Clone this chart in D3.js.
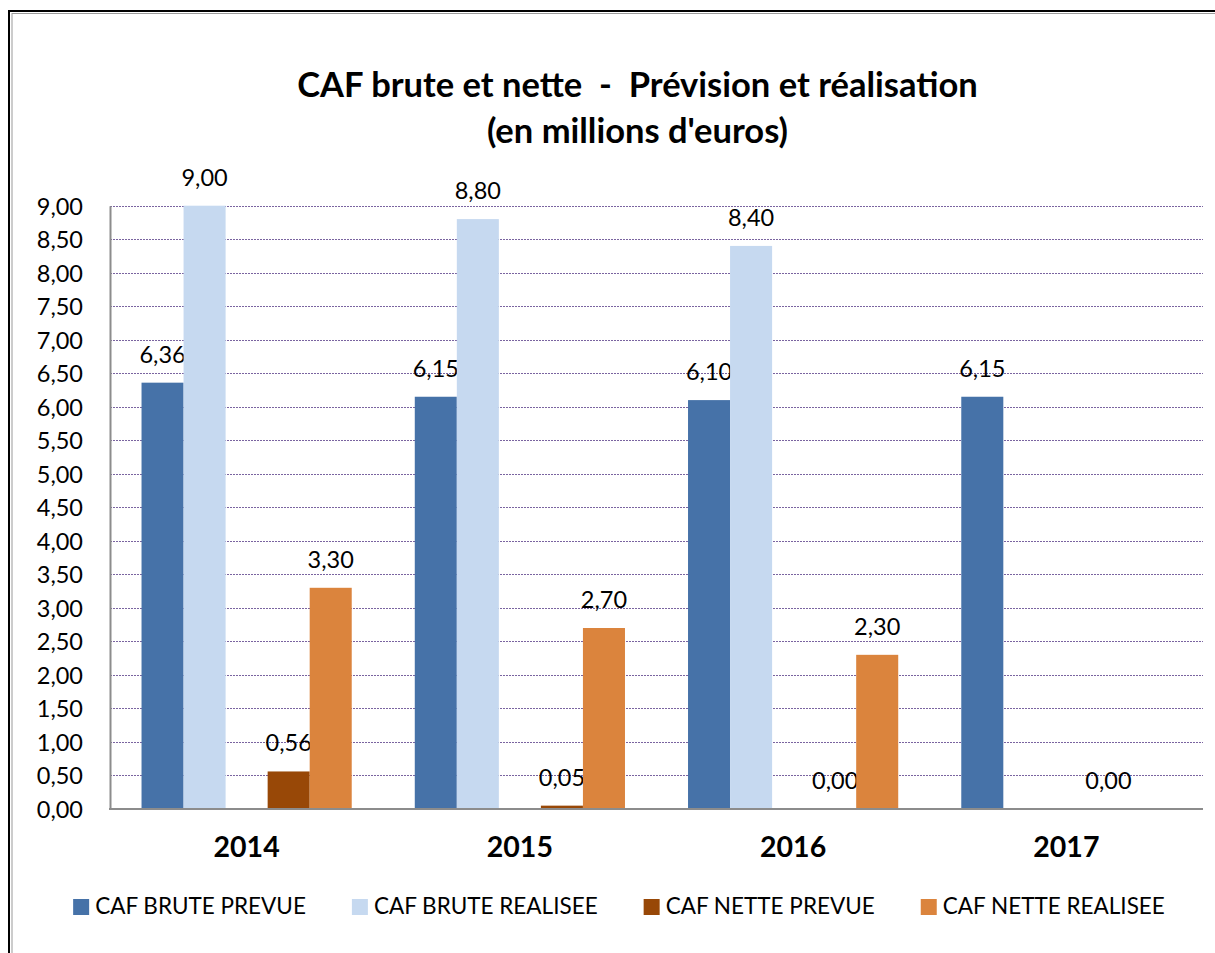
<html>
<head>
	<meta http-equiv="Content-Type" content="text/html; charset=utf-8" />
	<script src="https://cdn.jsdelivr.net/npm/d3@7/dist/d3.min.js" charset="utf-8"></script>
	<style type="text/css">
	body {
		background-color: #FFFFFF;
		margin: 0;
		overflow: hidden;
	}
	text {
		font-family: Lato, "Open Sans", sans-serif;
		fill: #000000;
		white-space: pre;
	}
	</style>
</head>
<body>
	<svg width="1215" height="953" version="1.1" xmlns="http://www.w3.org/2000/svg"></svg>

	<script type="text/javascript">
		/* data */
		var v_Years         = ["2014" ,"2015" ,"2016" ,"2017"];
		var v_BrutePrevue   = [6.36 ,6.15 ,6.10 ,6.15];
		var v_BruteRealisee = [9.00 ,8.80 ,8.40 ,null];
		var v_NettePrevue   = [0.56 ,0.05 ,0.00 ,0.00];
		var v_NetteRealisee = [3.30 ,2.70 ,2.30 ,null];
		var v_SeriesNames   = ["CAF BRUTE PREVUE" ,"CAF BRUTE REALISEE" ,"CAF NETTE PREVUE" ,"CAF NETTE REALISEE"];
		var v_YTicks        = [0 ,0.5 ,1 ,1.5 ,2 ,2.5 ,3 ,3.5 ,4 ,4.5 ,5 ,5.5 ,6 ,6.5 ,7 ,7.5 ,8 ,8.5 ,9];
		var v_Title         = ["CAF brute et nette  -  Prévision et réalisation" ,"(en millions d'euros)"];

		var v_Colors = ["#4672A8" ,"#C6D9F0" ,"#984807" ,"#DB843D"];

		var v_Series = [
			{name: v_SeriesNames[0] ,values: v_BrutePrevue   ,color: v_Colors[0] ,slot: "s0"},
			{name: v_SeriesNames[1] ,values: v_BruteRealisee ,color: v_Colors[1] ,slot: "s1"},
			{name: v_SeriesNames[2] ,values: v_NettePrevue   ,color: v_Colors[2] ,slot: "s3"},
			{name: v_SeriesNames[3] ,values: v_NetteRealisee ,color: v_Colors[3] ,slot: "s4"}
		];

		var v_SVG   = d3.select("svg");
		var v_Left  = 110;
		var v_Right = 1203;
		var v_Top   = 205.7;
		var v_Bot   = 809;

		/* frame */
		v_SVG.append("rect")
		.attr("x" ,9).attr("y" ,11)
		.attr("width" ,1300).attr("height" ,1000)
		.attr("fill" ,"none")
		.attr("stroke" ,"#000000")
		.attr("stroke-width" ,2);

		v_SVG.append("rect")
		.attr("x" ,12).attr("y" ,13.5)
		.attr("width" ,1300).attr("height" ,1000)
		.attr("fill" ,"none")
		.attr("stroke" ,"#9A9A9A")
		.attr("stroke-width" ,1);

		/* scales */
		var v_X0 = d3.scaleBand()
		.domain(v_Years)
		.range([v_Left ,v_Right])
		.paddingInner(1.5 / 6.5)
		.paddingOuter(0.75 / 6.5);

		// 5 slots, the middle one stays empty as in the original
		var v_X1 = d3.scaleBand()
		.domain(["s0" ,"s1" ,"s2" ,"s3" ,"s4"])
		.range([0 ,v_X0.bandwidth()]);

		var v_Y = d3.scaleLinear()
		.domain([0 ,9])
		.range([v_Bot ,v_Top]);

		var v_Fmt = function (d)
		{
			return d3.format(".2f")(d).replace("." ,",");
		};

		/* grid lines */
		v_SVG.append("g")
		.selectAll("line")
		.data(v_YTicks.filter(function (d) { return d > 0; }))
		.join("line")
		.attr("x1" ,v_Left)
		.attr("x2" ,v_Right)
		.attr("y1" ,function (d) { return Math.round(v_Y(d)) + 0.5; })
		.attr("y2" ,function (d) { return Math.round(v_Y(d)) + 0.5; })
		.attr("stroke" ,"#7A64A0")
		.attr("stroke-width" ,1)
		.attr("stroke-dasharray" ,"2,1");

		/* y axis */
		var v_YAxis = v_SVG.append("g")
		.attr("transform" ,"translate(" + v_Left + ",0)")
		.call(d3.axisLeft(v_Y).tickValues(v_YTicks).tickFormat(v_Fmt).tickSize(0).tickPadding(27));

		v_YAxis.select(".domain")
		.attr("stroke" ,"#8C8C8C")
		.attr("stroke-width" ,2);

		v_YAxis.selectAll("text")
		.attr("font-family" ,"Lato")
		.attr("font-size" ,23.5)
		.attr("fill" ,"#000000")
		.attr("dy" ,"0.36em");

		/* bars */
		var v_Groups = v_SVG.append("g")
		.selectAll("g")
		.data(v_Series)
		.join("g");

		v_Groups.selectAll("rect")
		.data(function (s)
		{
			return s.values.map(function (v ,i) { return {year: v_Years[i] ,value: v ,s: s}; })
			               .filter(function (d) { return d.value != null; });
		})
		.join("rect")
		.attr("x" ,function (d) { return v_X0(d.year) + v_X1(d.s.slot); })
		.attr("width" ,v_X1.bandwidth())
		.attr("y" ,function (d) { return v_Y(d.value); })
		.attr("height" ,function (d) { return v_Bot - v_Y(d.value); })
		.attr("fill" ,function (d) { return d.s.color; });

		/* value labels */
		v_Groups.selectAll("text")
		.data(function (s)
		{
			return s.values.map(function (v ,i) { return {year: v_Years[i] ,value: v ,s: s}; })
			               .filter(function (d) { return d.value != null; });
		})
		.join("text")
		.attr("x" ,function (d) { return v_X0(d.year) + v_X1(d.s.slot) + v_X1.bandwidth() / 2; })
		.attr("y" ,function (d) { return v_Y(d.value) - 20; })
		.attr("text-anchor" ,"middle")
		.attr("font-size" ,23.5)
		.text(function (d) { return v_Fmt(d.value); });

		/* x axis */
		v_SVG.append("line")
		.attr("x1" ,v_Left - 1)
		.attr("x2" ,v_Right)
		.attr("y1" ,v_Bot)
		.attr("y2" ,v_Bot)
		.attr("stroke" ,"#8C8C8C")
		.attr("stroke-width" ,2);

		v_SVG.append("g")
		.selectAll("text")
		.data(v_Years)
		.join("text")
		.attr("x" ,function (d) { return v_X0(d) + v_X0.bandwidth() / 2; })
		.attr("y" ,857)
		.attr("text-anchor" ,"middle")
		.attr("font-size" ,28.5)
		.attr("font-weight" ,"bold")
		.text(function (d) { return d; });

		/* title */
		v_SVG.append("g")
		.selectAll("text")
		.data(v_Title)
		.join("text")
		.attr("x" ,637.5)
		.attr("y" ,function (d ,i) { return 97 + i * 46; })
		.attr("text-anchor" ,"middle")
		.attr("font-size" ,34.5)
		.attr("font-weight" ,"bold")
		.text(function (d) { return d; });

		/* legend */
		var v_Legend = v_SVG.append("g");
		var v_Items = v_Legend.selectAll("g")
		.data(v_Series)
		.join("g");

		v_Items.append("rect")
		.attr("width" ,16)
		.attr("height" ,16)
		.attr("y" ,899)
		.attr("fill" ,function (d) { return d.color; });

		v_Items.append("text")
		.attr("x" ,22)
		.attr("y" ,914)
		.attr("font-size" ,22.5)
		.text(function (d) { return d.name; });

		var v_Widths = [];
		v_Items.each(function ()
		{
			v_Widths.push(22 + d3.select(this).select("text").node().getComputedTextLength());
		});
		var v_Gap   = 46;
		var v_Total = d3.sum(v_Widths) + v_Gap * (v_Widths.length - 1);
		var v_PosX  = 619 - v_Total / 2;
		v_Items.attr("transform" ,function (d ,i)
		{
			var v_X = v_PosX;
			v_PosX += v_Widths[i] + v_Gap;
			return "translate(" + v_X + ",0)";
		});
	</script>
</body>
</html>
